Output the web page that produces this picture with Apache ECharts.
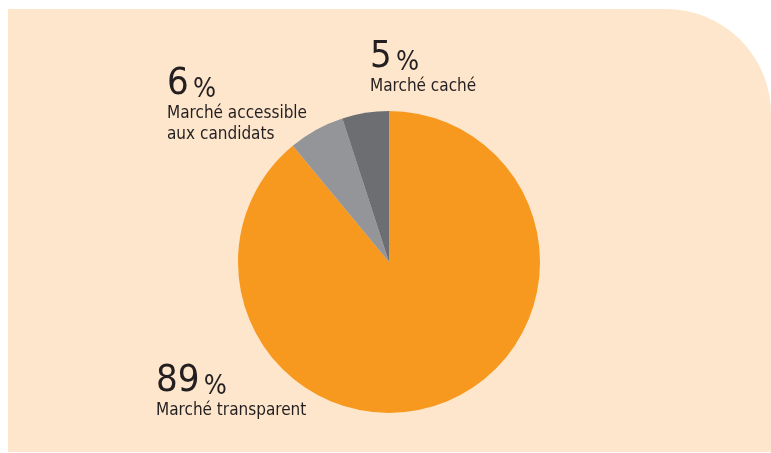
<!DOCTYPE html>
<html>
<head>
<meta charset="utf-8">
<script src="https://cdn.jsdelivr.net/npm/echarts@6/dist/echarts.min.js"></script>
<style>
  html, body { margin: 0; padding: 0; background: #fff; }
  #chart { width: 771px; height: 453px; }
</style>
</head>
<body>
<div id="chart"></div>
<script>
// parts of the job market (percent)
var names = ['Marché transparent', 'Marché accessible\naux candidats', 'Marché caché'];
var values = [89, 6, 5];
var colors = ['#f7991e', '#939598', '#6d6e71'];
// where each label block starts (top-left)
var labelPos = [[156, 362], [167, 65], [370, 38]];

var chart = echarts.init(document.getElementById('chart'), null, { renderer: 'canvas' });

var data = names.map(function (n, i) {
    return { name: n, value: values[i], itemStyle: { color: colors[i] } };
});

var font = 'DejaVu Sans Condensed';

chart.setOption({
    backgroundColor: '#fff',
    animation: false,
    graphic: [{
        type: 'rect',
        shape: { x: 8, y: 9, width: 763, height: 443, r: [0, 105, 0, 0] },
        style: { fill: '#fee6cc' },
        z: -10
    }],
    series: [{
        type: 'pie',
        center: [389, 262],
        radius: [0, 151],
        startAngle: 90,
        clockwise: true,
        silent: true,
        data: data,
        itemStyle: { borderWidth: 0 },
        labelLine: { show: false },
        label: {
            show: true,
            position: 'outside',
            align: 'left',
            fontFamily: font,
            color: '#231f20',
            formatter: function (p) {
                return '{n|' + p.value + '}{s| }{p|%}\n{t|' + p.name + '}';
            },
            rich: {
                n: { fontSize: 38, lineHeight: 38, color: '#231f20', fontFamily: font },
                s: { fontSize: 15, lineHeight: 38, fontFamily: font },
                p: { fontSize: 27, lineHeight: 38, color: '#231f20', fontFamily: font, verticalAlign: 'bottom' },
                t: { fontSize: 17, lineHeight: 21, color: '#231f20', fontFamily: font }
            }
        },
        labelLayout: function (params) {
            var pos = labelPos[params.dataIndex];
            return { x: pos[0], y: pos[1], align: 'left', verticalAlign: 'top', hideOverlap: false };
        }
    }]
});
</script>
</body>
</html>
